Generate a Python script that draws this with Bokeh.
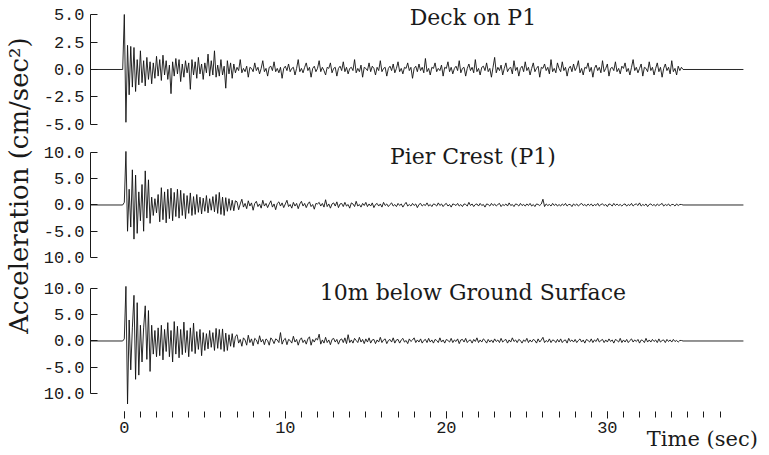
import math
from bokeh.plotting import figure
from bokeh.layouts import row, column
from bokeh.models import (Range1d, FixedTicker, PrintfTickFormatter, Label, LinearAxis,
                          CustomJSTickFormatter)
from bokeh.embed import file_html
from bokeh.resources import INLINE

# ---------------- data ----------------
DT = 0.1            # sampling step of the records (sec), first sample at t = 0
REC_START = -2.1    # baseline drawn from the axis ...
REC_END = 38.45     # ... to the end of the record

TITLES = ["Deck on P1", "Pier Crest (P1)", "10m below Ground Surface"]
X_TICKS = [0, 10, 20, 30]
X_MINOR = list(range(0, 38))
Y_TICKS_DECK = [-5.0, -2.5, 0.0, 2.5, 5.0]
Y_TICKS_PIER = [-10.0, -5.0, 0.0, 5.0, 10.0]
Y_TICKS_GROUND = [-10.0, -5.0, 0.0, 5.0, 10.0]
X_LABEL = "Time (sec)"
X_LABEL_AT = 35.9   # centre of the time-axis title, in seconds
Y_LABEL = "Acceleration (cm/sec\u00b2)"

DECK_P1 = [
    5.0, -4.8, 2.2, -2.3, 2.1, -1.6, 2.0, -2.0, 0.9, -1.4,
    1.7, -1.2, 0.8, -1.5, 1.1, -0.9, 0.7, -1.3, 0.6, -0.8,
    1.2, -0.6, 0.9, -1.0, 1.3, -0.5, 0.8, -0.9, 0.4, -2.2,
    0.7, -0.6, 1.0, -0.4, 0.9, -1.1, 0.5, -0.7, 0.8, -0.3,
    0.6, -1.8, 0.9, -0.5, 0.7, -0.8, 1.1, -0.4, 0.5, -0.9,
    0.6, -0.3, 1.4, -0.6, 0.8, -0.5, 1.7, -0.7, 0.4, -0.6,
    0.9, -0.5, 0.3, -1.7, 0.8, -0.4, 0.6, -0.8, 0.5, -0.3,
    0.2, -0.1, 0.9, -0.3, 0.1, -0.2, 0.3, -0.7, 0.2, 0.1, -0.2, 0.6, -0.1, 0.2, -0.4, 0.1, 0.8, -0.2, 0.1, -0.6,
    0.2, 0.3, -0.1, 0.7, -0.2, 0.1, -0.3, 0.2, -0.8, 0.1, 0.3, -0.1, 0.5, -0.2, 0.1, 0.2, -0.5, 0.1, 0.9, -0.2,
    0.1, -0.3, 0.2, 0.6, -0.1, 0.2, -0.7, 0.1, 0.3, -0.2, 0.1, 0.8, -0.2, 0.2, -0.1, -0.5, 0.2, 0.1, 0.6, -0.3,
    0.1, 0.2, -0.6, 0.1, 0.3, -0.1, 0.7, -0.2, 0.2, -0.4, 0.1, 0.2, -0.1, 0.9, -0.3, 0.1, -0.2, 0.4, -0.7, 0.2,
    0.1, -0.1, 0.6, -0.2, 0.3, 0.1, -0.5, 0.2, -0.1, 0.8, -0.2, 0.1, 0.2, -0.6, 0.1, 0.3, -0.1, 0.5, -0.3, 0.1,
    0.7, -0.2, 0.1, -0.4, 0.2, 0.1, 0.6, -0.1, 0.2, -0.8, 0.1, 0.3, -0.2, 0.5, -0.1, 0.2, -0.3, 1.0, -0.2, 0.1,
    -0.5, 0.2, 0.1, 0.6, -0.2, 0.1, -0.1, 0.4, -0.6, 0.2, 0.1, 0.7, -0.2, 0.2, -0.4, 0.1, 0.3, -0.1, 0.8, -0.3,
    0.1, 0.2, -0.6, 0.1, 0.5, -0.1, 0.2, -0.3, 0.9, -0.2, 0.1, -0.5, 0.2, 0.3, -0.1, 0.6, -0.2, 0.1, -0.7, 0.2,
    1.1, -0.3, 0.2, -0.1, 0.4, -0.5, 0.1, 0.6, -0.2, 0.1, 0.2, -0.4, 0.8, -0.1, 0.2, -0.6, 0.1, 0.3, -0.2, 0.7,
    -0.1, 0.2, -0.5, 0.1, 0.6, -0.2, 0.1, 0.3, -0.7, 0.2, 0.1, 0.5, -0.1, 0.2, -0.4, 0.9, -0.2, 0.1, -0.3, 0.6,
    0.1, -0.2, 0.7, -0.1, 0.2, -0.6, 0.1, 0.3, -0.2, 0.5, -0.1, 0.2, 0.8, -0.3, 0.1, -0.5, 0.2, 0.1, 0.6, -0.2,
    0.2, -0.7, 0.1, 0.4, -0.1, 0.2, -0.3, 0.8, -0.2, 0.1, 0.5, -0.6, 0.1, 0.2, -0.1, 0.7, -0.2, 0.1, -0.4, 0.3,
    0.1, 0.6, -0.2, 0.1, -0.5, 0.2, 0.9, -0.1, 0.2, -0.3, 0.1, 0.5, -0.6, 0.2, 0.1, -0.2, 0.7, -0.1, 0.2, -0.5,
    0.1, 0.6, -0.2, 0.2, -0.7, 0.1, 0.5, -0.1, 0.2, -0.4, 0.8, -0.2, 0.1, -0.5, 0.3, -0.1, 0.2,
]

PIER_CREST = [
    0.5, 10.2, -5.0, 3.0, -4.2, 6.7, -6.5, 5.7, -5.4, 2.5,
    -3.0, 3.9, -5.0, 6.5, -2.5, 4.8, -3.5, 1.5, -2.0, 1.2,
    -1.5, 2.0, -3.2, 3.3, -2.8, 2.5, -3.4, 3.0, -2.6, 3.2,
    -3.0, 2.4, -2.2, 3.0, -2.5, 2.8, -2.0, 2.2, -2.6, 1.8,
    -1.6, 2.3, -2.0, 1.6, -1.8, 2.0, -1.4, 1.5, -1.7, 1.3,
    -1.2, 1.8, -1.5, 1.2, -1.0, 1.6, -1.3, 2.0, -1.6, 2.4,
    -1.8, 1.5, -2.0, 1.4, -1.2, 1.2, -1.0, 0.9, -1.1, 0.8,
    0.6, -0.9, 0.2, 1.1, -0.4, 0.3, -0.7, 0.8, -0.2, 0.4, -1.0, 0.3, 0.7, -0.3, 0.2, -0.6, 0.9, -0.2, 0.3, -0.5,
    0.2, 0.8, -0.4, 0.2, -0.9, 0.3, 0.6, -0.2, 0.4, -0.5, 0.2, 0.9, -0.3, 0.1, -0.6, 0.5, -0.2, 0.3, -0.7, 0.2,
    0.7, -0.2, 0.3, -0.5, 0.2, 0.6, -0.3, 0.1, -0.8, 0.3, 0.2, 0.5, -0.2, 0.3, -0.4, 1.0, -0.3, 0.2, -0.6, 0.2,
    0.4, -0.2, 0.6, -0.5, 0.2, 0.3, -0.3, 0.5, -0.2, 0.1, -0.6, 0.4, 0.2, -0.3, 0.7, -0.2, 0.1, -0.4, 0.3, -0.1,
    0.5, -0.3, 0.2, -0.2, 0.4, -0.5, 0.1, 0.3, -0.2, 0.2, -0.4, 0.5, -0.1, 0.2, -0.3, 0.1, 0.4, -0.2, 0.1, -0.3,
    0.3, -0.1, 0.2, -0.4, 0.1, 0.5, -0.2, 0.1, -0.2, 0.3, -0.1, 0.2, -0.5, 0.1, 0.3, -0.2, 0.1, -0.1, 0.4, -0.2,
    0.1, -0.3, 0.2, 0.1, -0.2, 0.4, -0.1, 0.2, -0.3, 0.1, 0.3, -0.2, 0.1, -0.4, 0.2, 0.1, -0.1, 0.3, -0.2, 0.1,
    -0.3, 0.2, 0.1, -0.2, 0.5, -0.1, 0.2, -0.3, 0.1, 0.2, -0.2, 0.3, -0.1, 0.1, -0.4, 0.2, 0.1, -0.2, 0.3, -0.1,
    0.2, -0.2, 0.1, 0.3, -0.3, 0.1, -0.1, 0.2, -0.2, 0.4, -0.1, 0.1, -0.3, 0.2, 0.1, -0.2, 0.3, -0.1, 0.1, -0.2,
    0.2, -0.1, 0.3, -0.2, 0.1, -0.3, 0.2, 0.1, -0.1, 0.2, 1.1, -0.3, 0.2, -0.1, 0.1, -0.2, 0.3, -0.1, 0.2, -0.2,
    0.1, -0.2, 0.2, -0.1, 0.3, -0.2, 0.1, 0.1, -0.3, 0.2, -0.1, 0.2, -0.2, 0.1, 0.3, -0.1, 0.1, -0.2, 0.2, -0.1,
    0.2, -0.2, 0.1, -0.1, 0.3, -0.2, 0.1, 0.2, -0.1, 0.1, -0.3, 0.2, 0.1, -0.2, 0.3, -0.1, 0.2, -0.1, 0.1, -0.2,
    0.1, 0.2, -0.2, 0.1, -0.1, 0.3, -0.2, 0.1, 0.2, -0.1, 0.4, -0.2, 0.1, -0.1, 0.2, -0.3, 0.1, 0.2, -0.1, 0.1,
    -0.2, 0.2, -0.1, 0.1, 0.3, -0.2, 0.1, -0.1, 0.2, -0.2, 0.1, 0.1, -0.2, 0.2, -0.1, 0.1, 0.1,
]

BELOW_10M = [
    0.4, 10.4, -12.0, 4.0, -5.5, 2.5, 8.7, -7.3, 7.3, -6.5,
    3.0, -4.0, 2.5, 6.7, -3.5, 5.8, -5.8, 3.0, -2.5, 2.0,
    -3.0, 2.5, -2.8, 3.0, -3.6, 2.2, -2.0, 3.5, -3.0, 2.0,
    -4.0, 3.7, -2.5, 2.8, -3.2, 2.2, -2.6, 3.6, -2.2, 2.0,
    -3.0, 2.5, -2.0, 3.4, -2.4, 1.8, -1.6, 2.2, -2.8, 1.6,
    -1.8, 1.4, -1.5, 2.0, -1.2, 1.6, -1.8, 2.4, -1.4, 2.2,
    -1.6, 2.3, -2.0, 1.5, -1.8, 1.2, -1.0, 1.4, -1.2, 0.9,
    1.2, -0.4, 0.3, -1.0, 0.6, 0.2, -0.8, 1.1, -0.3, 0.4, -0.9, 0.5, 0.2, -0.6, 1.0, -0.2, 0.3, -0.7, 0.4, 0.1,
    -0.8, 0.6, 0.2, -0.5, 0.4, 0.2, -0.3, 1.6, -0.6, 0.2, 0.5, -0.7, 0.3, 0.1, -0.4, 0.9, -0.2, 0.3, -0.8, 0.2,
    0.6, -0.3, 0.2, -0.6, 0.4, 0.8, -0.8, 0.3, -0.2, 0.5, 0.2, 1.3, -0.6, 0.2, -0.4, 0.7, -0.3, 0.2, -0.7, 0.3,
    0.5, -0.2, 0.3, -0.6, 0.2, 0.4, -0.3, 0.6, -0.5, 1.2, -0.3, 0.2, -0.4, 0.5, 0.1, -0.3, 0.7, -0.2, 0.3, -0.5,
    0.4, -0.2, 0.6, -0.4, 0.2, 0.3, -0.5, 0.2, -0.2, 0.7, -0.3, 0.2, 0.4, -0.5, 0.1, 0.3, -0.2, 0.6, -0.4, 0.2,
    0.3, -0.4, 0.2, 0.5, -0.2, 0.1, -0.5, 0.4, -0.1, 0.2, 0.6, -0.3, 0.2, -0.2, 0.4, -0.4, 0.1, 0.3, -0.3, 0.5,
    -0.2, 0.2, -0.4, 0.3, 0.1, -0.3, 0.6, -0.2, 0.2, -0.4, 0.3, 0.1, -0.2, 0.5, -0.3, 0.2, -0.1, 0.4, -0.5, 0.2,
    0.3, -0.2, 0.5, -0.3, 0.1, 0.2, -0.4, 0.3, -0.1, 0.6, -0.3, 0.2, -0.2, 0.4, 0.1, -0.4, 0.3, -0.2, 0.2, -0.3,
    0.4, -0.1, 0.2, -0.3, 0.5, -0.2, 0.1, 0.3, -0.4, 0.2, -0.2, 0.6, -0.1, 0.2, -0.3, 0.3, 0.1, -0.4, 0.2, -0.1,
    0.5, -0.3, 0.2, -0.2, 0.3, 0.1, -0.4, 0.4, -0.2, 0.2, 0.7, -0.3, 0.1, -0.2, 0.4, -0.3, 0.2, 0.1, -0.3, 0.3,
    -0.2, 0.4, -0.3, 0.1, 0.2, -0.4, 0.5, -0.1, 0.2, -0.2, 0.3, -0.3, 0.1, 0.4, -0.2, 0.2, -0.4, 0.3, 0.1, -0.2,
    0.4, -0.3, 0.2, -0.1, 0.5, -0.2, 0.1, 0.3, -0.3, 0.2, -0.2, 0.4, -0.1, 0.2, -0.4, 0.3, 0.1, -0.2, 0.5, -0.3,
    0.2, -0.2, 0.3, -0.3, 0.1, 0.4, -0.2, 0.2, -0.1, 0.3, -0.4, 0.2, 0.1, -0.3, 0.5, -0.2, 0.2, -0.2, 0.3, -0.1,
    0.2, -0.3, 0.4, -0.2, 0.1, 0.2, -0.3, 0.3, -0.1, 0.2, -0.2, 0.3, -0.1, 0.1, -0.2, 0.1, 0.1,
]

# ---------------- styling ----------------
INK = "#1a1a1a"
TICK_FONT = "Liberation Mono"
TEXT_FONT = "DejaVu Serif"

x_range = Range1d(REC_START, 40.07)


def record(vals):
    n = len(vals)
    t = [REC_START, -DT] + [i * DT for i in range(n)] + [n * DT, REC_END]
    y = [0.0, 0.0] + list(vals) + [0.0, 0.0]
    return t, y


def panel(vals, height, y_rng, ticks, overrides, title, title_y, bottom=0, with_x=False):
    p = figure(width=729, height=height, x_range=x_range, y_range=Range1d(*y_rng),
               output_backend="svg", toolbar_location=None,
               x_axis_location="below" if with_x else None,
               min_border_left=49, min_border_right=0, min_border_top=0,
               min_border_bottom=bottom)
    p.outline_line_color = None
    p.grid.visible = False
    p.background_fill_color = "white"
    p.border_fill_color = "white"

    ax = p.yaxis[0]
    ax.ticker = FixedTicker(ticks=ticks)
    ax.bounds = (ticks[0], ticks[-1])
    ax.formatter = PrintfTickFormatter(format="%.1f")
    if overrides:
        ax.major_label_overrides = overrides
    ax.major_tick_in = 7
    ax.major_tick_out = 0
    ax.minor_tick_line_color = None
    ax.major_label_standoff = 6
    ax.major_label_text_font = TICK_FONT
    ax.major_label_text_font_size = "17px"
    ax.major_label_text_color = INK
    ax.axis_line_color = INK
    ax.major_tick_line_color = INK

    t, y = record(vals)
    p.line(t, y, line_color="#111111", line_width=0.9)

    p.add_layout(Label(x=21.65, y=title_y, text=title, text_align="center",
                       text_baseline="middle", text_font=TEXT_FONT,
                       text_font_size="22px", text_color=INK))
    return p


p1 = panel(DECK_P1, 140, (-6.455, 6.273), Y_TICKS_DECK, None, TITLES[0], 4.73)
p2 = panel(PIER_CREST, 135, (-13.429, 12.286), Y_TICKS_PIER, {-10: "10.0"}, TITLES[1], 9.24)
p3 = panel(BELOW_10M, 180, (-13.429, 12.476), Y_TICKS_GROUND, {-10: "10.0"}, TITLES[2], 9.24,
           bottom=44, with_x=True)

xa = p3.xaxis[0]
xa.ticker = FixedTicker(ticks=X_TICKS, minor_ticks=X_MINOR)
xa.bounds = (0, 37)
xa.axis_line_color = None
xa.major_tick_in = 0
xa.major_tick_out = 7
xa.minor_tick_in = 0
xa.minor_tick_out = 6
xa.major_tick_line_color = INK
xa.minor_tick_line_color = INK
xa.major_label_standoff = 3
xa.major_label_text_font = TICK_FONT
xa.major_label_text_font_size = "17px"
xa.major_label_text_color = INK

# time-axis title: a single labelled position at the right end of the axis
tax = LinearAxis(ticker=FixedTicker(ticks=[X_LABEL_AT], minor_ticks=[]),
                 formatter=CustomJSTickFormatter(code="return %r;" % X_LABEL),
                 axis_line_color=None, major_tick_line_color=None,
                 minor_tick_line_color=None, major_tick_in=0, major_tick_out=0,
                 minor_tick_in=0, minor_tick_out=0, major_label_standoff=-9,
                 major_label_text_font=TEXT_FONT, major_label_text_font_size="21px",
                 major_label_text_color=INK)
p3.add_layout(tax, "below")

# y-axis title spanning the three panels
lab = figure(width=40, height=455, x_range=(0, 40), y_range=(0, 455),
             output_backend="svg", toolbar_location=None,
             x_axis_location=None, y_axis_location=None,
             min_border_left=0, min_border_right=0, min_border_top=0, min_border_bottom=0)
lab.outline_line_color = None
lab.grid.visible = False
lab.add_layout(Label(x=18, y=270, text=Y_LABEL, angle=math.pi / 2, text_align="center",
                     text_baseline="middle", text_font=TEXT_FONT,
                     text_font_size="26px", text_color=INK))

layout = row(lab, column(p1, p2, p3))

open("out.html", "w").write(file_html(layout, INLINE))
